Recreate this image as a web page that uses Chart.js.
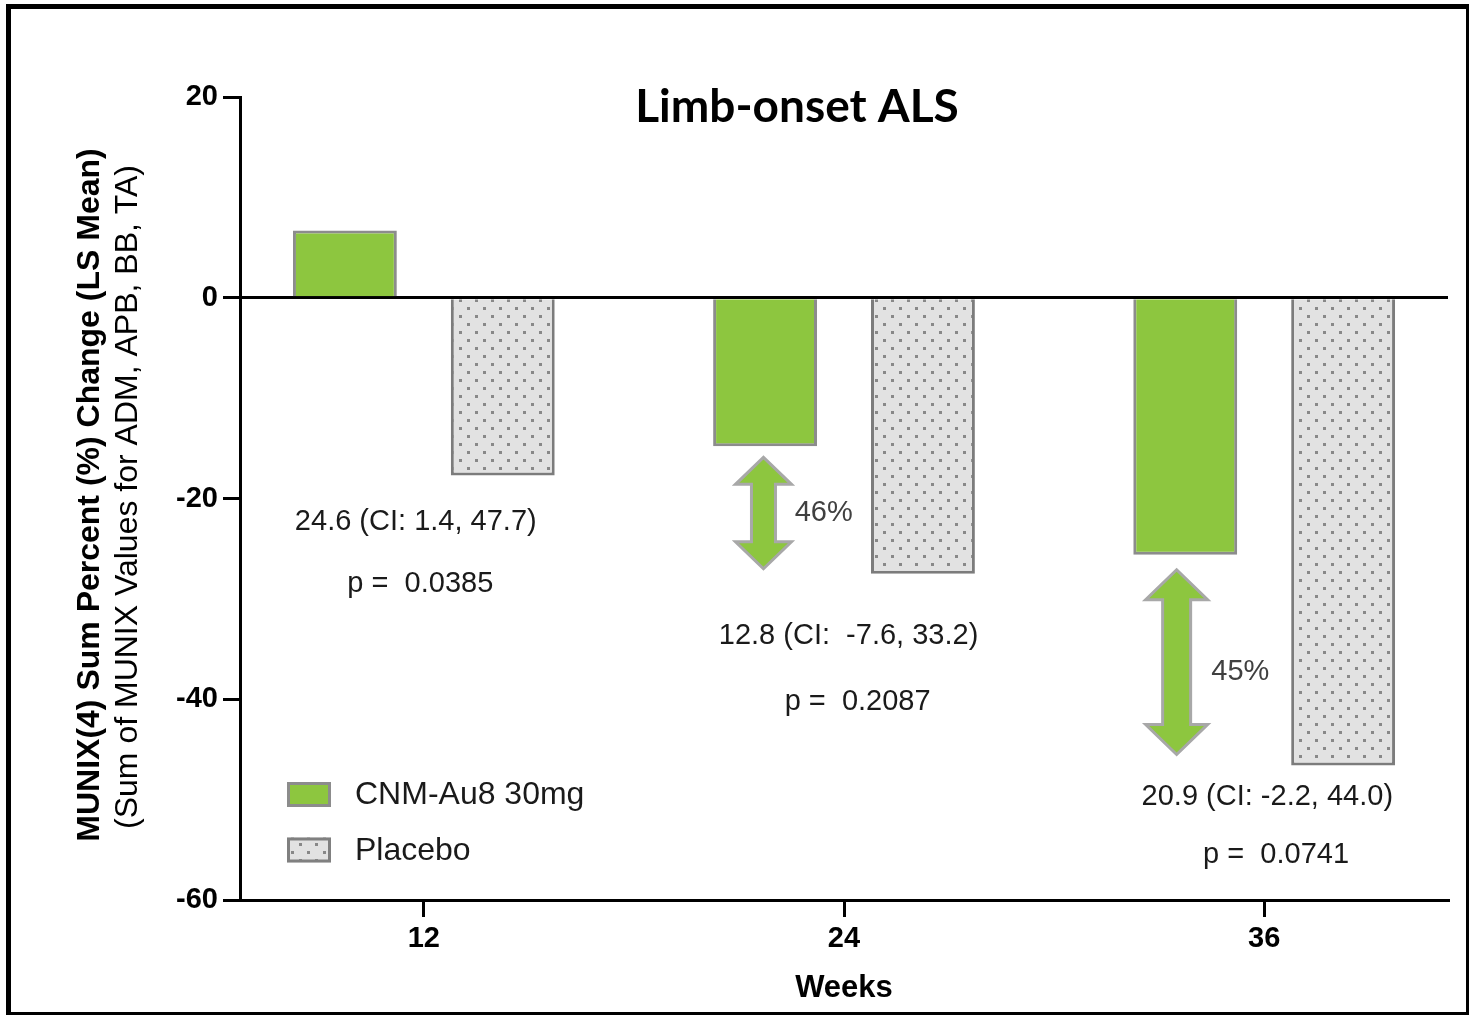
<!DOCTYPE html>
<html>
<head>
<meta charset="utf-8">
<script src="https://cdn.jsdelivr.net/npm/chart.js@4.4.1/dist/chart.umd.min.js"></script>
<style>
html,body{margin:0;padding:0;background:#fff;}
canvas{display:block;}
</style>
</head>
<body>
<canvas id="c" width="1469" height="1015"></canvas>
<script>
// ---------- data ----------
const weeks = [12, 24, 36];
const seriesLabels = ['CNM-Au8 30mg', 'Placebo'];
const cnmValues = [6.7, -14.8, -25.6];
const placeboValues = [-17.7, -27.5, -46.6];
const diffLabels = ['24.6 (CI: 1.4, 47.7)', '12.8 (CI:  -7.6, 33.2)', '20.9 (CI: -2.2, 44.0)'];
const pLabels = ['p =  0.0385', 'p =  0.2087', 'p =  0.0741'];
const pctLabels = ['46%', '45%'];
const arrowFrom = [-15.9, -27.1];
const arrowTo = [-27.0, -45.5];
const yTickValues = [20, 0, -20, -40, -60];
const chartTitle = 'Limb-onset ALS';
const xTitle = 'Weeks';
const yTitleMain = 'MUNIX(4) Sum Percent (%) Change (LS Mean)';
const yTitleSub = '(Sum of MUNIX Values for ADM, APB, BB, TA)';

// ---------- layout / style (not data) ----------
const FONT = "'Liberation Sans', Arial, sans-serif";
const GREEN = '#8dc63f';
const diffPos = [[11.77, -22.3], [24.13, -33.7], [36.09, -49.7]];
const pPos = [[11.9, -28.5], [24.39, -40.3], [36.34, -55.5]];
const pctPos = [[22.59, -21.4], [34.49, -37.3]];
const arrowX = [21.70, 33.50];
const arrowStyle = [{hw: 56, sw: 24, hh: 27}, {hw: 62, sw: 28, hh: 30}];

const canvas = document.getElementById('c');
const ctx0 = canvas.getContext('2d');

function dotPattern() {
  const c = document.createElement('canvas');
  c.width = 16; c.height = 16;
  const g = c.getContext('2d');
  g.fillStyle = '#e2e2e2'; g.fillRect(0, 0, 16, 16);
  g.fillStyle = '#888888';
  g.fillRect(3, 3, 3, 3);
  g.fillRect(11, 11, 3, 3);
  return ctx0.createPattern(c, 'repeat');
}
const placeboFill = dotPattern();

const overlay = {
  id: 'overlay',
  afterDraw(chart) {
    const {ctx, scales: {x, y}} = chart;
    ctx.save();
    // arrows
    arrowX.forEach((ax, i) => {
      const cx = x.getPixelForValue(ax);
      const t = y.getPixelForValue(arrowFrom[i]);
      const b = y.getPixelForValue(arrowTo[i]);
      const s = arrowStyle[i];
      ctx.beginPath();
      ctx.moveTo(cx, t);
      ctx.lineTo(cx + s.hw / 2, t + s.hh);
      ctx.lineTo(cx + s.sw / 2, t + s.hh);
      ctx.lineTo(cx + s.sw / 2, b - s.hh);
      ctx.lineTo(cx + s.hw / 2, b - s.hh);
      ctx.lineTo(cx, b);
      ctx.lineTo(cx - s.hw / 2, b - s.hh);
      ctx.lineTo(cx - s.sw / 2, b - s.hh);
      ctx.lineTo(cx - s.sw / 2, t + s.hh);
      ctx.lineTo(cx - s.hw / 2, t + s.hh);
      ctx.closePath();
      ctx.fillStyle = GREEN;
      ctx.fill();
      ctx.lineWidth = 3;
      ctx.lineJoin = 'miter';
      ctx.strokeStyle = '#a8a8a8';
      ctx.stroke();
    });
    // percentage labels
    ctx.font = `29px ${FONT}`;
    ctx.fillStyle = '#404040';
    ctx.textAlign = 'left';
    ctx.textBaseline = 'middle';
    pctLabels.forEach((t, i) => {
      ctx.fillText(t, x.getPixelForValue(pctPos[i][0]), y.getPixelForValue(pctPos[i][1]));
    });
    // CI and p labels
    ctx.fillStyle = '#1a1a1a';
    ctx.textAlign = 'center';
    diffLabels.forEach((t, i) => {
      ctx.fillText(t, x.getPixelForValue(diffPos[i][0]), y.getPixelForValue(diffPos[i][1]));
    });
    pLabels.forEach((t, i) => {
      ctx.fillText(t, x.getPixelForValue(pPos[i][0]), y.getPixelForValue(pPos[i][1]));
    });
    // legend
    const legendFills = [GREEN, placeboFill];
    const legendBorders = ['#8c8c8c', '#808080'];
    const ly = [794.5, 850];
    ctx.font = `32px ${FONT}`;
    ctx.textAlign = 'left';
    seriesLabels.forEach((lab, i) => {
      ctx.fillStyle = legendFills[i];
      ctx.fillRect(287, ly[i] - 12.5, 44, 25);
      ctx.lineWidth = 3;
      ctx.strokeStyle = legendBorders[i];
      ctx.strokeRect(288.5, ly[i] - 11, 41, 22);
      ctx.fillStyle = '#1a1a1a';
      ctx.fillText(lab, 355, ly[i] + 1);
    });
    // chart title
    ctx.font = `bold 46px Lato, 'Open Sans', sans-serif`;
    ctx.fillStyle = '#000';
    ctx.textAlign = 'center';
    ctx.textBaseline = 'alphabetic';
    ctx.fillText(chartTitle, 797, 122);
    // y titles
    ctx.save();
    ctx.translate(90, 495);
    ctx.rotate(-Math.PI / 2);
    ctx.textBaseline = 'middle';
    ctx.font = `bold 32px ${FONT}`;
    ctx.fillText(yTitleMain, 0, 0);
    ctx.restore();
    ctx.save();
    ctx.translate(128, 497);
    ctx.rotate(-Math.PI / 2);
    ctx.textBaseline = 'middle';
    ctx.font = `32px ${FONT}`;
    ctx.fillText(yTitleSub, 0, 0);
    ctx.restore();
    // frame
    ctx.fillStyle = '#000';
    ctx.fillRect(6, 4, 5, 1011);
    ctx.fillRect(6, 4, 1463, 5);
    ctx.fillRect(1466, 4, 3, 1011);
    ctx.fillRect(6, 1012, 1463, 3);
    ctx.restore();
  }
};

new Chart(canvas, {
  type: 'bar',
  data: {
    datasets: [
      {
        label: seriesLabels[0],
        data: weeks.map((w, i) => ({x: w, y: cnmValues[i]})),
        backgroundColor: GREEN,
        borderColor: '#8c8c8c',
        borderWidth: 3,
        categoryPercentage: 0.7515,
        barPercentage: 0.658
      },
      {
        label: seriesLabels[1],
        data: weeks.map((w, i) => ({x: w, y: placeboValues[i]})),
        backgroundColor: placeboFill,
        borderColor: '#7c7c7c',
        borderWidth: 3,
        categoryPercentage: 0.7515,
        barPercentage: 0.658
      }
    ]
  },
  options: {
    responsive: false,
    animation: false,
    devicePixelRatio: 1,
    events: [],
    layout: {padding: {top: 97, right: 21, left: 0, bottom: 0}},
    plugins: {legend: {display: false}, tooltip: {enabled: false}, title: {display: false}},
    scales: {
      x: {
        type: 'linear',
        min: 6.75,
        max: 41.25,
        offset: false,
        afterBuildTicks: s => { s.ticks = weeks.map(v => ({value: v})); },
        afterFit: s => { s.height = 115; },
        ticks: {
          color: '#000',
          font: {family: FONT, weight: 'bold', size: 29},
          padding: 5,
          maxRotation: 0,
          autoSkip: false,
          callback: v => String(v)
        },
        grid: {offset: false, drawOnChartArea: false, color: '#000', lineWidth: 3, tickLength: 17},
        border: {color: '#000', width: 3},
        title: {display: true, text: xTitle, color: '#000', font: {family: FONT, weight: 'bold', size: 31}, padding: {top: 0, bottom: 8}}
      },
      y: {
        min: -60,
        max: 20,
        z: 1,
        afterBuildTicks: s => { s.ticks = yTickValues.map(v => ({value: v})); },
        afterFit: s => { s.width = 240; },
        ticks: {color: '#000', font: {family: FONT, weight: 'bold', size: 29}, padding: 5},
        grid: {
          color: c => (c.tick && c.tick.value === 0) ? '#000' : 'rgba(0,0,0,0)',
          tickColor: '#000',
          lineWidth: 3,
          tickLength: 17
        },
        border: {color: '#000', width: 3}
      }
    }
  },
  plugins: [overlay]
});
</script>
</body>
</html>
